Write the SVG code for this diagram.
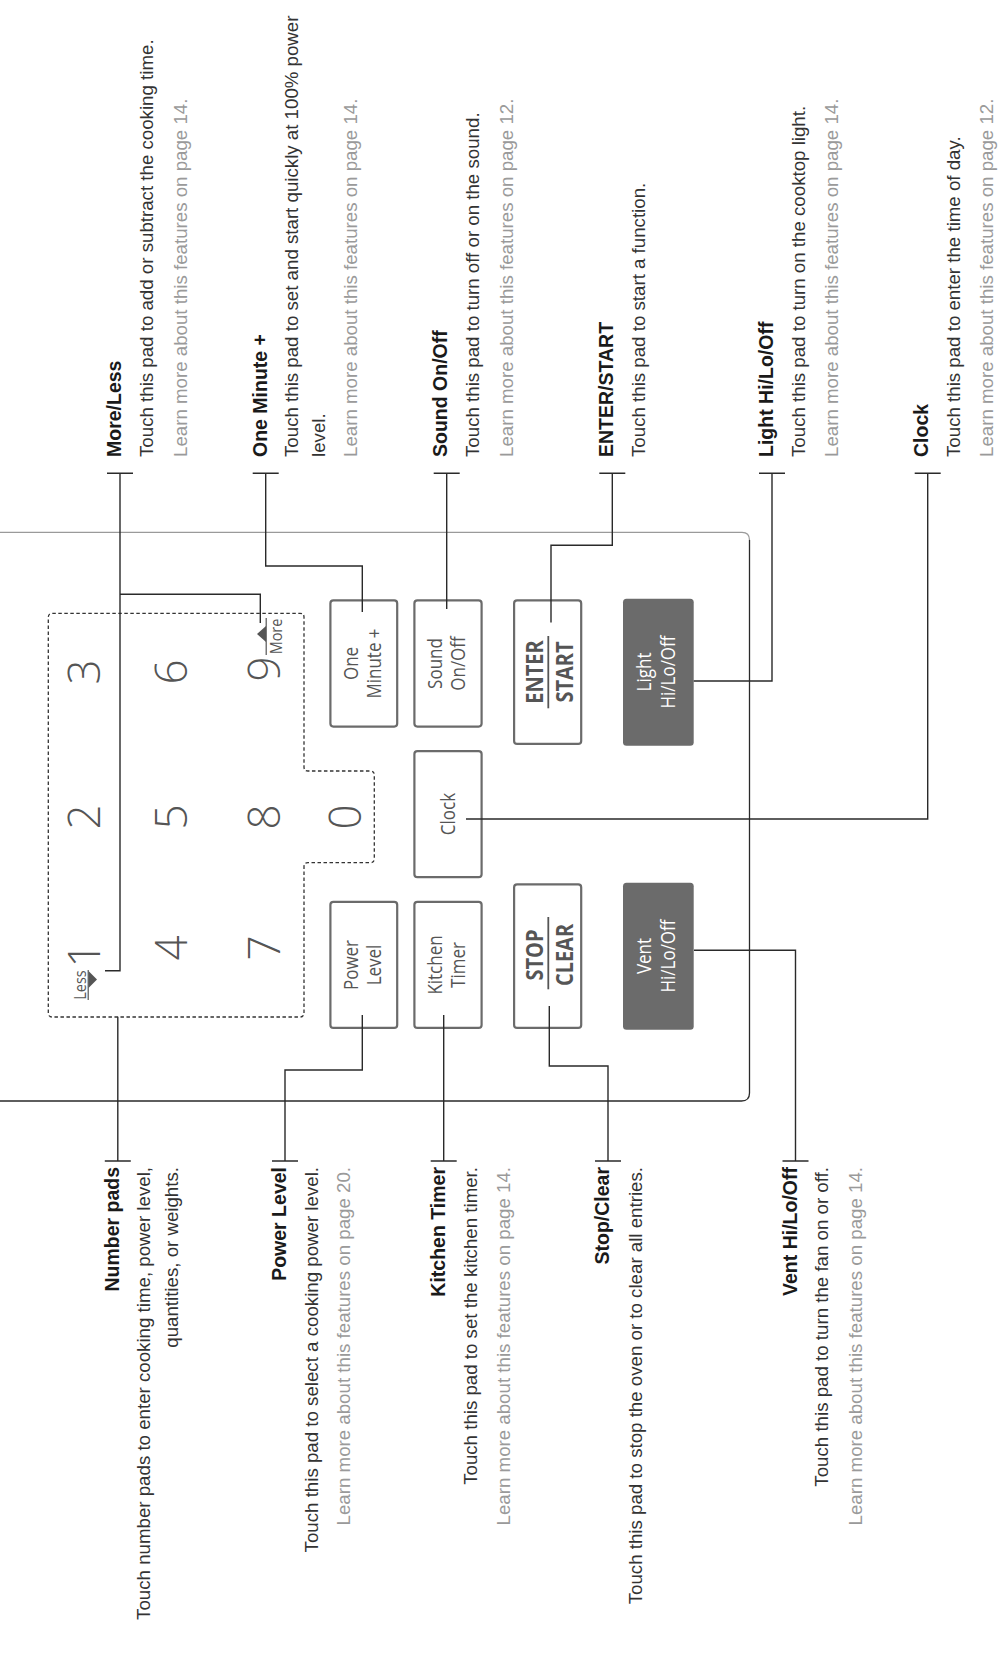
<svg xmlns="http://www.w3.org/2000/svg" width="1000" height="1660" viewBox="0 0 1000 1660">
<style>
text{font-family:"Liberation Sans",Arial,sans-serif}
.t{font-size:19.5px;font-weight:bold;fill:#1a1a1a}
.b{font-size:18.7px;fill:#333}
.g{font-size:18.7px;fill:#9a9a9a}
.e{text-anchor:end}
.p{font-family:"Open Sans","DejaVu Sans",sans-serif;font-size:20px;fill:#555;text-anchor:middle}
.pb{font-family:"Open Sans","DejaVu Sans",sans-serif;font-size:23.5px;font-weight:bold;fill:#555;text-anchor:middle}
.w{fill:#fff}
.d{font-family:"Open Sans","DejaVu Sans",sans-serif;font-size:44px;font-weight:300;fill:#555;text-anchor:middle}
.s{font-family:"Open Sans","DejaVu Sans",sans-serif;font-size:17px;fill:#555;text-anchor:middle}
.pad{fill:#fff;stroke:#6b6b6b;stroke-width:2.2}
.dark{fill:#6b6b6b}
.c{fill:none;stroke:#2a2a2a;stroke-width:1.4}
</style>

<g id="panel">
<path d="M0 532.3 H742 Q749.5 532.3 749.5 540" fill="none" stroke="#9a9a9a" stroke-width="1.2"/>
<path d="M749.5 540 V1093 Q749.5 1101 741.5 1101 H0" fill="none" stroke="#2a2a2a" stroke-width="1.3"/>
</g>

<g id="number-pads">
<path d="M52.3 613.3 H300 Q304 613.3 304 617.3 V767 Q304 771 308 771 H370.3 Q374.3 771 374.3 775 V858.7 Q374.3 862.7 370.3 862.7 H308 Q304 862.7 304 866.7 V1013 Q304 1017 300 1017 H52.3 Q48.3 1017 48.3 1013 V617.3 Q48.3 613.3 52.3 613.3 Z" fill="none" stroke="#333" stroke-width="1.3" stroke-dasharray="3.5 2.5"/>
<text class="d" transform="translate(100,672) rotate(-90)">3</text>
<text class="d" transform="translate(100,817) rotate(-90)">2</text>
<text class="d" transform="translate(100,955) rotate(-90)">1</text>
<text class="d" transform="translate(186.5,672) rotate(-90)">6</text>
<text class="d" transform="translate(186.5,817) rotate(-90)">5</text>
<text class="d" transform="translate(186.5,948) rotate(-90)">4</text>
<text class="d" transform="translate(280,669) rotate(-90)">9</text>
<text class="d" transform="translate(280,817) rotate(-90)">8</text>
<text class="d" transform="translate(280,948) rotate(-90)">7</text>
<text class="d" transform="translate(361,817) rotate(-90)">0</text>
<text class="s" transform="translate(281.5,636.5) rotate(-90) scale(0.85,1)">More</text>
<line x1="266.2" y1="618" x2="266.2" y2="655" stroke="#555" stroke-width="1.2"/>
<polygon points="257,634 266,626 266,642" fill="#555"/>
<text class="s" transform="translate(85.5,985) rotate(-90) scale(0.85,1)">Less</text>
<line x1="88.2" y1="970" x2="88.2" y2="1000" stroke="#555" stroke-width="1.2"/>
<polygon points="97,979.5 88.5,971 88.5,988" fill="#555"/>
</g>

<g id="pad-one-minute">
<rect class="pad" x="330.4" y="600.4" width="66.8" height="126.2" rx="3"/>
<text class="p" transform="translate(357.5,663.5) rotate(-90) scale(0.85,1)">One</text>
<text class="p" transform="translate(380.5,663.5) rotate(-90) scale(0.85,1)">Minute +</text>
</g>
<g id="pad-sound">
<rect class="pad" x="414.4" y="600.4" width="67.2" height="126.2" rx="3"/>
<text class="p" transform="translate(441.7,663.5) rotate(-90) scale(0.85,1)">Sound</text>
<text class="p" transform="translate(464.7,663.5) rotate(-90) scale(0.85,1)">On/Off</text>
</g>
<g id="pad-enter-start">
<rect class="pad" x="514.1" y="600.4" width="67.1" height="143.5" rx="3"/>
<text class="pb" transform="translate(543.3,672) rotate(-90) scale(0.85,1)">ENTER</text>
<line x1="548.3" y1="636" x2="548.3" y2="708.3" stroke="#555" stroke-width="1.8"/>
<text class="pb" transform="translate(572.7,672) rotate(-90) scale(0.85,1)">START</text>
</g>
<g id="pad-light">
<rect class="dark" x="623" y="598.7" width="70.7" height="147" rx="3.5"/>
<text class="p w" transform="translate(651,672) rotate(-90) scale(0.85,1)">Light</text>
<text class="p w" transform="translate(674.5,672) rotate(-90) scale(0.85,1)">Hi/Lo/Off</text>
</g>
<g id="pad-clock">
<rect class="pad" x="414.4" y="751.1" width="67.2" height="126.1" rx="3"/>
<text class="p" transform="translate(455,814) rotate(-90) scale(0.85,1)">Clock</text>
</g>
<g id="pad-power-level">
<rect class="pad" x="330.4" y="901.8" width="66.8" height="126.1" rx="3"/>
<text class="p" transform="translate(357.5,965) rotate(-90) scale(0.85,1)">Power</text>
<text class="p" transform="translate(380.5,965) rotate(-90) scale(0.85,1)">Level</text>
</g>
<g id="pad-kitchen-timer">
<rect class="pad" x="414.4" y="901.8" width="67.2" height="126.1" rx="3"/>
<text class="p" transform="translate(441.7,965) rotate(-90) scale(0.85,1)">Kitchen</text>
<text class="p" transform="translate(464.7,965) rotate(-90) scale(0.85,1)">Timer</text>
</g>
<g id="pad-stop-clear">
<rect class="pad" x="514.1" y="884.4" width="67.1" height="143.5" rx="3"/>
<text class="pb" transform="translate(543.3,955) rotate(-90) scale(0.85,1)">STOP</text>
<line x1="548.3" y1="917" x2="548.3" y2="989.3" stroke="#555" stroke-width="1.8"/>
<text class="pb" transform="translate(572.7,955) rotate(-90) scale(0.85,1)">CLEAR</text>
</g>
<g id="pad-vent">
<rect class="dark" x="623" y="882.7" width="70.7" height="147" rx="3.5"/>
<text class="p w" transform="translate(651,956) rotate(-90) scale(0.85,1)">Vent</text>
<text class="p w" transform="translate(674.5,956) rotate(-90) scale(0.85,1)">Hi/Lo/Off</text>
</g>

<g id="connectors" class="c">
<path d="M120 473.3 V970.7 H105"/>
<path d="M120 594.3 H260.3 V623"/>
<path d="M265.7 473.3 V566 H362.3 V612"/>
<path d="M446.7 473.3 V609"/>
<path d="M612.3 473.3 V545.3 H551 V622.5"/>
<path d="M772 473.3 V681 H693.7"/>
<path d="M927.7 473.3 V819 H466"/>
<path d="M117.8 1016.7 V1161"/>
<path d="M362.3 1015 V1070 H285 V1161"/>
<path d="M443.7 1015 V1161"/>
<path d="M549.3 1006 V1066 H608 V1161"/>
<path d="M694 950.3 H795.5 V1161"/>
<path d="M107 473.3 H133 M252.7 473.3 H278.7 M433.7 473.3 H459.7 M599.3 473.3 H625.3 M759 473.3 H785 M914.7 473.3 H940.7" stroke-width="1.6"/>
<path d="M104.8 1161 H130.8 M272 1161 H298 M430.7 1161 H456.7 M595 1161 H621 M782.5 1161 H808.5" stroke-width="1.6"/>
</g>

<g id="label-more-less">
<text class="t" transform="translate(120.8,457) rotate(-90)">More/Less</text>
<text class="b" transform="translate(152.8,457) rotate(-90)">Touch this pad to add or subtract the cooking time.</text>
<text class="g" transform="translate(186.7,457) rotate(-90)">Learn more about this features on page 14.</text>
</g>
<g id="label-one-minute">
<text class="t" transform="translate(266.8,457) rotate(-90)">One Minute +</text>
<text class="b" transform="translate(298.4,457) rotate(-90)">Touch this pad to set and start quickly at 100% power</text>
<text class="b" transform="translate(325.1,457) rotate(-90)">level.</text>
<text class="g" transform="translate(356.7,457) rotate(-90)">Learn more about this features on page 14.</text>
</g>
<g id="label-sound">
<text class="t" transform="translate(447.4,457) rotate(-90)">Sound On/Off</text>
<text class="b" transform="translate(479.4,457) rotate(-90)">Touch this pad to turn off or on the sound.</text>
<text class="g" transform="translate(513.4,457) rotate(-90)">Learn more about this features on page 12.</text>
</g>
<g id="label-enter-start">
<text class="t" transform="translate(613,457) rotate(-90)">ENTER/START</text>
<text class="b" transform="translate(645.1,457) rotate(-90)">Touch this pad to start a function.</text>
</g>
<g id="label-light">
<text class="t" transform="translate(773,457) rotate(-90)">Light Hi/Lo/Off</text>
<text class="b" transform="translate(805.1,457) rotate(-90)">Touch this pad to turn on the cooktop light.</text>
<text class="g" transform="translate(838.4,457) rotate(-90)">Learn more about this features on page 14.</text>
</g>
<g id="label-clock">
<text class="t" transform="translate(928.3,457) rotate(-90)">Clock</text>
<text class="b" transform="translate(960.1,457) rotate(-90)">Touch this pad to enter the time of day.</text>
<text class="g" transform="translate(993.4,457) rotate(-90)">Learn more about this features on page 12.</text>
</g>

<g id="label-number-pads">
<text class="t e" transform="translate(119,1167) rotate(-90)">Number pads</text>
<text class="b e" transform="translate(150.1,1167) rotate(-90)">Touch number pads to enter cooking time, power level,</text>
<text class="b e" transform="translate(178.4,1167) rotate(-90)">quantities, or weights.</text>
</g>
<g id="label-power-level">
<text class="t e" transform="translate(285.7,1167) rotate(-90)">Power Level</text>
<text class="b e" transform="translate(318.4,1167) rotate(-90)">Touch this pad to select a cooking power level.</text>
<text class="g e" transform="translate(350.1,1167) rotate(-90)">Learn more about this features on page 20.</text>
</g>
<g id="label-kitchen-timer">
<text class="t e" transform="translate(445,1167) rotate(-90)">Kitchen Timer</text>
<text class="b e" transform="translate(476.7,1167) rotate(-90)">Touch this pad to set the kitchen timer.</text>
<text class="g e" transform="translate(510.4,1167) rotate(-90)">Learn more about this features on page 14.</text>
</g>
<g id="label-stop-clear">
<text class="t e" transform="translate(609,1167) rotate(-90)">Stop/Clear</text>
<text class="b e" transform="translate(641.7,1167) rotate(-90)">Touch this pad to stop the oven or to clear all entries.</text>
</g>
<g id="label-vent">
<text class="t e" transform="translate(796.7,1167) rotate(-90)">Vent Hi/Lo/Off</text>
<text class="b e" transform="translate(828.4,1167) rotate(-90)">Touch this pad to turn the fan on or off.</text>
<text class="g e" transform="translate(861.7,1167) rotate(-90)">Learn more about this features on page 14.</text>
</g>
</svg>
